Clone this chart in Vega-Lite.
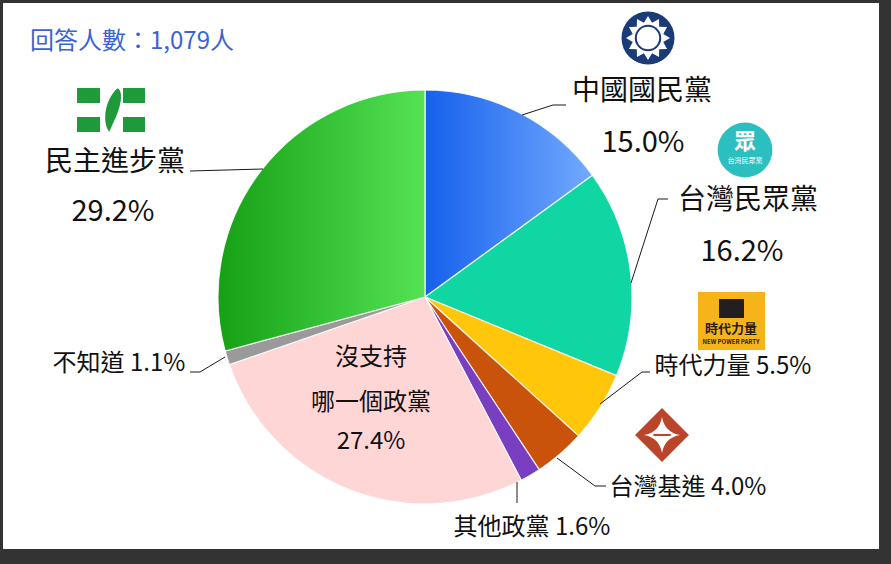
{
  "$schema": "https://vega.github.io/schema/vega-lite/v6.json",
  "width": 891,
  "height": 564,
  "autosize": {"type": "fit", "contains": "padding"},
  "padding": {"left": 3, "top": 3, "right": 12, "bottom": 15},
  "background": "#333333",
  "config": {
    "view": {"fill": "white", "stroke": null},
    "font": "Noto Sans CJK TC"
  },
  "datasets": {
    "slices": [
      {"i": 1, "party": "中國國民黨", "pct": 15.0},
      {"i": 2, "party": "台灣民眾黨", "pct": 16.2},
      {"i": 3, "party": "時代力量", "pct": 5.5},
      {"i": 4, "party": "台灣基進", "pct": 4.0},
      {"i": 5, "party": "其他政黨", "pct": 1.6},
      {"i": 6, "party": "沒支持哪一個政黨", "pct": 27.4},
      {"i": 7, "party": "不知道", "pct": 1.1},
      {"i": 8, "party": "民主進步黨", "pct": 29.2}
    ],
    "labels": [
      {"g": "big", "text": "中國國民黨", "x": 642, "y": 92},
      {"g": "big", "text": "台灣民眾黨", "x": 748, "y": 201},
      {"g": "big", "text": "民主進步黨", "x": 115, "y": 163},
      {"g": "pct", "text": "15.0%", "x": 643, "y": 143},
      {"g": "pct", "text": "16.2%", "x": 742, "y": 252},
      {"g": "pct", "text": "29.2%", "x": 113, "y": 212},
      {"g": "small", "text": "時代力量 5.5%", "x": 733, "y": 367},
      {"g": "small", "text": "台灣基進 4.0%", "x": 688, "y": 488},
      {"g": "small", "text": "其他政黨 1.6%", "x": 532, "y": 528},
      {"g": "small", "text": "沒支持", "x": 371, "y": 358},
      {"g": "small", "text": "哪一個政黨", "x": 371, "y": 403},
      {"g": "small", "text": "27.4%", "x": 371, "y": 442},
      {"g": "small", "text": "不知道 1.1%", "x": 119, "y": 364}
    ],
    "title": [{"text": "回答人數：1,079人", "x": 30, "y": 42}],
    "leaders": [
      {"id": "KMT", "k": 1, "x": 522, "y": 115},
      {"id": "KMT", "k": 2, "x": 553, "y": 105},
      {"id": "KMT", "k": 3, "x": 566, "y": 105},
      {"id": "TPP", "k": 1, "x": 631, "y": 283},
      {"id": "TPP", "k": 2, "x": 658, "y": 199},
      {"id": "TPP", "k": 3, "x": 668, "y": 199},
      {"id": "NPP", "k": 1, "x": 600, "y": 404},
      {"id": "NPP", "k": 2, "x": 642, "y": 372},
      {"id": "NPP", "k": 3, "x": 650, "y": 372},
      {"id": "TSP", "k": 1, "x": 557, "y": 458},
      {"id": "TSP", "k": 2, "x": 595, "y": 486},
      {"id": "TSP", "k": 3, "x": 606, "y": 486},
      {"id": "OTH", "k": 1, "x": 517, "y": 482},
      {"id": "OTH", "k": 2, "x": 517, "y": 503},
      {"id": "UNK", "k": 1, "x": 225, "y": 357},
      {"id": "UNK", "k": 2, "x": 200, "y": 372},
      {"id": "UNK", "k": 3, "x": 190, "y": 372},
      {"id": "DPP", "k": 1, "x": 263, "y": 169},
      {"id": "DPP", "k": 2, "x": 190, "y": 171}
    ],
    "logoPts": [
      {"logo": "KMT", "x": 648, "y": 38},
      {"logo": "TPP", "x": 745, "y": 150},
      {"logo": "TSP", "x": 662, "y": 435},
      {"logo": "DPP", "x": 111, "y": 110}
    ],
    "logoRects": [
      {"logo": "DPP", "x": 77, "x2": 100, "y": 88, "y2": 103},
      {"logo": "DPP", "x": 123, "x2": 145, "y": 88, "y2": 103},
      {"logo": "DPP", "x": 77, "x2": 100, "y": 117, "y2": 132},
      {"logo": "DPP", "x": 123, "x2": 145, "y": 117, "y2": 132},
      {"logo": "NPP", "x": 698, "x2": 765, "y": 292, "y2": 350},
      {"logo": "NPPk", "x": 719, "x2": 744, "y": 299, "y2": 318}
    ],
    "logoTexts": [
      {"g": "tpp1", "text": "眾", "x": 745, "y": 142},
      {"g": "tpp2", "text": "台灣民眾黨", "x": 745, "y": 161},
      {"g": "npp1", "text": "時代力量", "x": 731, "y": 329},
      {"g": "npp2", "text": "NEW POWER PARTY", "x": 731, "y": 342}
    ]
  },
  "layer": [
    {
      "data": {"name": "slices"},
      "mark": {"type": "arc", "outerRadius": 207, "stroke": "#ffffff", "strokeWidth": 1.2, "strokeOpacity": 0.85},
      "encoding": {
        "theta": {"field": "pct", "type": "quantitative", "stack": true},
        "order": {"field": "i", "type": "quantitative"},
        "x": {"datum": 425, "type": "quantitative", "scale": {"domain": [3, 879]}, "axis": null},
        "y": {"datum": 297, "type": "quantitative", "scale": {"domain": [3, 549], "reverse": true}, "axis": null},
        "color": {
          "condition": [
            {"test": "datum.party === '中國國民黨'", "value": {"gradient": "linear", "x1": 0, "y1": 0.5, "x2": 1, "y2": 0.5, "stops": [{"offset": 0, "color": "#1560ec"}, {"offset": 1, "color": "#73aaff"}]}},
            {"test": "datum.party === '民主進步黨'", "value": {"gradient": "linear", "x1": 0, "y1": 0.5, "x2": 1, "y2": 0.5, "stops": [{"offset": 0, "color": "#15a015"}, {"offset": 1, "color": "#55e255"}]}}
          ],
          "field": "party",
          "type": "nominal",
          "scale": {
            "domain": ["中國國民黨", "台灣民眾黨", "時代力量", "台灣基進", "其他政黨", "沒支持哪一個政黨", "不知道", "民主進步黨"],
            "range": ["#2f78f2", "#0fd6a2", "#ffc60a", "#c9530a", "#7a3fc0", "#ffd6d6", "#9a9a9a", "#2ec42e"]
          },
          "legend": null
        }
      }
    },
    {
      "data": {"name": "leaders"},
      "mark": {"type": "line", "color": "#1a1a1a", "strokeWidth": 1},
      "encoding": {
        "x": {"field": "x", "type": "quantitative", "scale": {"domain": [3, 879]}, "axis": null},
        "y": {"field": "y", "type": "quantitative", "scale": {"domain": [3, 549], "reverse": true}, "axis": null},
        "detail": {"field": "id", "type": "nominal"},
        "order": {"field": "k", "type": "quantitative"}
      }
    },
    {
      "data": {"name": "labels"},
      "transform": [{"filter": "datum.g === 'big'"}],
      "mark": {"type": "text", "fontSize": 28, "color": "#111111", "align": "center", "baseline": "middle", "font": "Noto Sans CJK TC"},
      "encoding": {
        "x": {"field": "x", "type": "quantitative", "scale": {"domain": [3, 879]}, "axis": null},
        "y": {"field": "y", "type": "quantitative", "scale": {"domain": [3, 549], "reverse": true}, "axis": null},
        "text": {"field": "text"}
      }
    },
    {
      "data": {"name": "labels"},
      "transform": [{"filter": "datum.g === 'pct'"}],
      "mark": {"type": "text", "fontSize": 29, "color": "#111111", "align": "center", "baseline": "middle", "font": "Noto Sans CJK TC"},
      "encoding": {
        "x": {"field": "x", "type": "quantitative", "scale": {"domain": [3, 879]}, "axis": null},
        "y": {"field": "y", "type": "quantitative", "scale": {"domain": [3, 549], "reverse": true}, "axis": null},
        "text": {"field": "text"}
      }
    },
    {
      "data": {"name": "labels"},
      "transform": [{"filter": "datum.g === 'small'"}],
      "mark": {"type": "text", "fontSize": 24, "color": "#111111", "align": "center", "baseline": "middle", "font": "Noto Sans CJK TC"},
      "encoding": {
        "x": {"field": "x", "type": "quantitative", "scale": {"domain": [3, 879]}, "axis": null},
        "y": {"field": "y", "type": "quantitative", "scale": {"domain": [3, 549], "reverse": true}, "axis": null},
        "text": {"field": "text"}
      }
    },
    {
      "data": {"name": "title"},
      "mark": {"type": "text", "fontSize": 24, "color": "#3b63d3", "align": "left", "baseline": "middle", "font": "Noto Sans CJK TC"},
      "encoding": {
        "x": {"field": "x", "type": "quantitative", "scale": {"domain": [3, 879]}, "axis": null},
        "y": {"field": "y", "type": "quantitative", "scale": {"domain": [3, 549], "reverse": true}, "axis": null},
        "text": {"field": "text"}
      }
    },
    {
      "data": {"name": "logoRects"},
      "layer": [
        {"transform": [{"filter": "datum.logo === 'DPP'"}], "mark": {"type": "rect", "color": "#1f9a3b"}},
        {"transform": [{"filter": "datum.logo === 'NPP'"}], "mark": {"type": "rect", "color": "#f6b41a"}},
        {"transform": [{"filter": "datum.logo === 'NPPk'"}], "mark": {"type": "rect", "color": "#231f20"}}
      ],
      "encoding": {
        "x": {"field": "x", "type": "quantitative", "scale": {"domain": [3, 879]}, "axis": null},
        "x2": {"field": "x2"},
        "y": {"field": "y", "type": "quantitative", "scale": {"domain": [3, 549], "reverse": true}, "axis": null},
        "y2": {"field": "y2"}
      }
    },
    {
      "data": {"name": "logoPts"},
      "transform": [{"filter": "datum.logo === 'KMT'"}],
      "layer": [
        {"mark": {"type": "point", "shape": "circle", "filled": true, "size": 2809, "color": "#1b3a78", "opacity": 1}},
        {"mark": {"type": "point", "shape": "M0,-1L0.186,-0.695L0.5,-0.866L0.509,-0.509L0.866,-0.5L0.695,-0.186L1,0L0.695,0.186L0.866,0.5L0.509,0.509L0.5,0.866L0.186,0.695L0,1L-0.186,0.695L-0.5,0.866L-0.509,0.509L-0.866,0.5L-0.695,0.186L-1,0L-0.695,-0.186L-0.866,-0.5L-0.509,-0.509L-0.5,-0.866L-0.186,-0.695Z", "filled": true, "size": 1936, "color": "#ffffff", "opacity": 1}},
        {"mark": {"type": "point", "shape": "circle", "filled": true, "size": 700, "color": "#1b3a78", "opacity": 1}},
        {"mark": {"type": "point", "shape": "circle", "filled": true, "size": 500, "color": "#ffffff", "opacity": 1}}
      ],
      "encoding": {
        "x": {"field": "x", "type": "quantitative", "scale": {"domain": [3, 879]}, "axis": null},
        "y": {"field": "y", "type": "quantitative", "scale": {"domain": [3, 549], "reverse": true}, "axis": null}
      }
    },
    {
      "data": {"name": "logoPts"},
      "transform": [{"filter": "datum.logo === 'TPP'"}],
      "mark": {"type": "point", "shape": "circle", "filled": true, "size": 3000, "color": "#2cbfc0", "opacity": 1},
      "encoding": {
        "x": {"field": "x", "type": "quantitative", "scale": {"domain": [3, 879]}, "axis": null},
        "y": {"field": "y", "type": "quantitative", "scale": {"domain": [3, 549], "reverse": true}, "axis": null}
      }
    },
    {
      "data": {"name": "logoPts"},
      "transform": [{"filter": "datum.logo === 'TSP'"}],
      "layer": [
        {"mark": {"type": "point", "shape": "diamond", "filled": true, "size": 2900, "color": "#b9462a", "opacity": 1}},
        {"mark": {"type": "point", "shape": "M0,-1Q0.15,-0.15 1,0Q0.15,0.15 0,1Q-0.15,0.15 -1,0Q-0.15,-0.15 0,-1Z", "filled": true, "size": 1300, "color": "#ffffff", "opacity": 1}},
        {"mark": {"type": "point", "shape": "M-1,-0.12L1,-0.12L1,0.12L-1,0.12Z", "filled": true, "size": 300, "color": "#b9462a", "opacity": 1}}
      ],
      "encoding": {
        "x": {"field": "x", "type": "quantitative", "scale": {"domain": [3, 879]}, "axis": null},
        "y": {"field": "y", "type": "quantitative", "scale": {"domain": [3, 549], "reverse": true}, "axis": null}
      }
    },
    {
      "data": {"name": "logoPts"},
      "transform": [{"filter": "datum.logo === 'DPP'"}],
      "layer": [
        {"mark": {"type": "point", "shape": "M0.3,-1C0.6,-0.85 0.45,-0.1 0.12,0.55L-0.08,1C-0.4,0.6 -0.32,-0.45 0.3,-1Z", "filled": true, "size": 1900, "color": "#1f9a3b", "opacity": 1}}
      ],
      "encoding": {
        "x": {"field": "x", "type": "quantitative", "scale": {"domain": [3, 879]}, "axis": null},
        "y": {"field": "y", "type": "quantitative", "scale": {"domain": [3, 549], "reverse": true}, "axis": null}
      }
    },
    {
      "data": {"name": "logoTexts"},
      "layer": [
        {"transform": [{"filter": "datum.g === 'tpp1'"}], "mark": {"type": "text", "fontSize": 22, "fontWeight": "bold", "color": "#ffffff", "align": "center", "baseline": "middle"}},
        {"transform": [{"filter": "datum.g === 'tpp2'"}], "mark": {"type": "text", "fontSize": 7, "color": "#ffffff", "align": "center", "baseline": "middle"}},
        {"transform": [{"filter": "datum.g === 'npp1'"}], "mark": {"type": "text", "fontSize": 13, "fontWeight": "bold", "color": "#231f20", "align": "center", "baseline": "middle"}},
        {"transform": [{"filter": "datum.g === 'npp2'"}], "mark": {"type": "text", "fontSize": 6, "fontWeight": "bold", "color": "#231f20", "align": "center", "baseline": "middle"}}
      ],
      "encoding": {
        "x": {"field": "x", "type": "quantitative", "scale": {"domain": [3, 879]}, "axis": null},
        "y": {"field": "y", "type": "quantitative", "scale": {"domain": [3, 549], "reverse": true}, "axis": null},
        "text": {"field": "text"}
      }
    }
  ]
}
